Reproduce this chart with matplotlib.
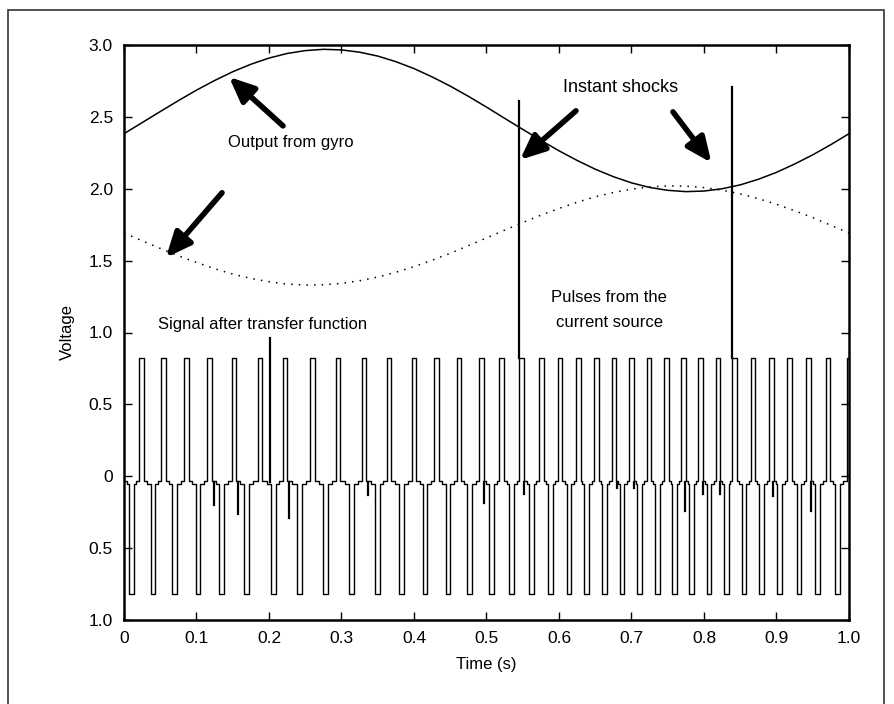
import numpy as np
import matplotlib
matplotlib.use("Agg")
import matplotlib.pyplot as plt
from matplotlib.patches import Rectangle

plt.rcParams['font.family'] = ['Liberation Sans', 'DejaVu Sans']

# ---------------- data ----------------
curve_t = [i * 0.025 for i in range(41)]
gyro_output = [2.383, 2.460, 2.537, 2.613, 2.686, 2.753, 2.814, 2.866, 2.909, 2.941,
               2.961, 2.970, 2.966, 2.950, 2.923, 2.884, 2.836, 2.778, 2.714, 2.643,
               2.568, 2.490, 2.413, 2.337, 2.264, 2.197, 2.136, 2.084, 2.041, 2.009,
               1.989, 1.980, 1.984, 2.000, 2.027, 2.066, 2.114, 2.172, 2.236, 2.307, 2.383]
transfer_signal = [1.692, 1.638, 1.585, 1.534, 1.487, 1.444, 1.406, 1.376, 1.353, 1.337,
                   1.330, 1.332, 1.342, 1.360, 1.386, 1.419, 1.458, 1.503, 1.551, 1.604,
                   1.658, 1.712, 1.765, 1.816, 1.863, 1.906, 1.944, 1.974, 1.997, 2.013,
                   2.020, 2.018, 2.008, 1.990, 1.964, 1.931, 1.892, 1.847, 1.799, 1.746, 1.692]

pos_pulse_t = [0.0207, 0.0514, 0.0832, 0.1149, 0.1486, 0.1844, 0.2189, 0.2566,
               0.2920, 0.3279, 0.3623, 0.3968, 0.4280, 0.4589, 0.4897, 0.5177,
               0.5452, 0.5724, 0.5982, 0.6234, 0.6483, 0.6727, 0.6966, 0.7210,
               0.7448, 0.7683, 0.7921, 0.8161, 0.8390, 0.8644, 0.8897, 0.9149,
               0.9407, 0.9679, 0.9972]
neg_pulse_t = [0.0069, 0.0368, 0.0666, 0.0989, 0.1314, 0.1655, 0.2028, 0.2391,
               0.2749, 0.3103, 0.3462, 0.3797, 0.4120, 0.4437, 0.4735, 0.5034,
               0.5315, 0.5590, 0.5852, 0.6106, 0.6349, 0.6597, 0.6837, 0.7080,
               0.7324, 0.7563, 0.7797, 0.8037, 0.8276, 0.8520, 0.8763, 0.9011,
               0.9279, 0.9531, 0.9807]
pulse_high = 0.82
pulse_low = -0.82
base_near_pos = -0.03
base_near_neg = -0.055
pulse_width = 0.0065

spike_t = [0.1241, 0.1568, 0.2007, 0.2280, 0.3361, 0.4961, 0.5521, 0.6796,
           0.7034, 0.7738, 0.7982, 0.8221, 0.8956, 0.9476]
spike_v = [-0.20, -0.26, 0.96, -0.29, -0.13, -0.185, -0.125, -0.08,
           -0.08, -0.24, -0.125, -0.125, -0.14, -0.24]

shock_t = [0.5452, 0.8390]
shock_top = [2.61, 2.71]

x_ticks = [0, 0.1, 0.2, 0.3, 0.4, 0.5, 0.6, 0.7, 0.8, 0.9, 1.0]
x_tick_labels = ['0', '0.1', '0.2', '0.3', '0.4', '0.5', '0.6', '0.7', '0.8', '0.9', '1.0']
y_ticks = [-1.0, -0.5, 0, 0.5, 1.0, 1.5, 2.0, 2.5, 3.0]
y_tick_labels = ['1.0', '0.5', '0', '0.5', '1.0', '1.5', '2.0', '2.5', '3.0']

# ---------------- build pulse train ----------------
pulses = [(t, pulse_high, base_near_pos) for t in pos_pulse_t] + \
         [(t, pulse_low, base_near_neg) for t in neg_pulse_t]
pulses.sort(key=lambda e: e[0])
px, py = [0.0], [base_near_pos]
last_base, last_end = base_near_pos, 0.0
for t, lvl, b in pulses:
    if b != last_base:
        mid = 0.5 * (last_end + t)
        px += [mid, mid]
        py += [last_base, b]
    px += [t, t, t + pulse_width, t + pulse_width]
    py += [b, lvl, lvl, b]
    last_base, last_end = b, t + pulse_width

# spikes inserted as thin excursions from the local base
sx, sy = [], []
for t, v in zip(spike_t, spike_v):
    sx.append([t, t])
    sy.append([-0.04, v])

# ---------------- figure ----------------
fig = plt.figure(figsize=(8.95, 7.04), dpi=100)
ax = fig.add_axes([124 / 895, 1 - 620 / 704, 725 / 895, 575 / 704])

ax.plot(curve_t, gyro_output, color='black', lw=1.1, zorder=3)
ax.plot(curve_t, transfer_signal, color='black', lw=1.1,
        linestyle=(0, (1, 4)), zorder=3)
ax.plot(px, py, color='black', lw=1.0, zorder=3)
for xs, ys in zip(sx, sy):
    ax.plot(xs, ys, color='black', lw=1.6, zorder=3)
for t, top in zip(shock_t, shock_top):
    ax.plot([t, t], [pulse_high, top], color='black', lw=1.6, zorder=3)

ax.set_xlim(0, 1.0)
ax.set_ylim(-1.0, 3.0)
ax.set_xticks(x_ticks)
ax.set_xticklabels(x_tick_labels)
ax.set_yticks(y_ticks)
ax.set_yticklabels(y_tick_labels)
ax.tick_params(direction='in', length=6, width=1, top=True, right=True,
               labelsize=12.5, pad=8)
for s in ax.spines.values():
    s.set_linewidth(1.8)

ax.set_xlabel('Time (s)', fontsize=12, labelpad=8)
ax.set_ylabel('Voltage', fontsize=12, labelpad=10)

arrow_kw = dict(arrowstyle='-|>,head_width=0.55,head_length=1.25', lw=4,
                color='black', shrinkA=0, shrinkB=0, mutation_scale=12)
ax.annotate('', xy=(0.1448, 2.778), xytext=(0.2193, 2.4375), arrowprops=arrow_kw)
ax.annotate('', xy=(0.0579, 1.521), xytext=(0.1352, 1.972), arrowprops=arrow_kw)
ax.annotate('', xy=(0.5462, 2.201), xytext=(0.6234, 2.542), arrowprops=arrow_kw)
ax.annotate('', xy=(0.8103, 2.181), xytext=(0.7572, 2.535), arrowprops=arrow_kw)

ax.text(0.1434, 2.319, 'Output from gyro', fontsize=12, ha='left', va='center')
ax.text(0.0469, 1.056, 'Signal after transfer function', fontsize=12,
        ha='left', va='center')
ax.text(0.6855, 2.701, 'Instant shocks', fontsize=13, ha='center', va='center')
ax.text(0.669, 1.243, 'Pulses from the', fontsize=12, ha='center', va='center')
ax.text(0.669, 1.069, 'current source', fontsize=12, ha='center', va='center')

fig.patches.append(Rectangle((8 / 895, -0.05), 876 / 895, 1 - 10 / 704 + 0.05,
                             transform=fig.transFigure, fill=False,
                             edgecolor='#333333', lw=1.2))

fig.savefig('out.png', dpi=100)
